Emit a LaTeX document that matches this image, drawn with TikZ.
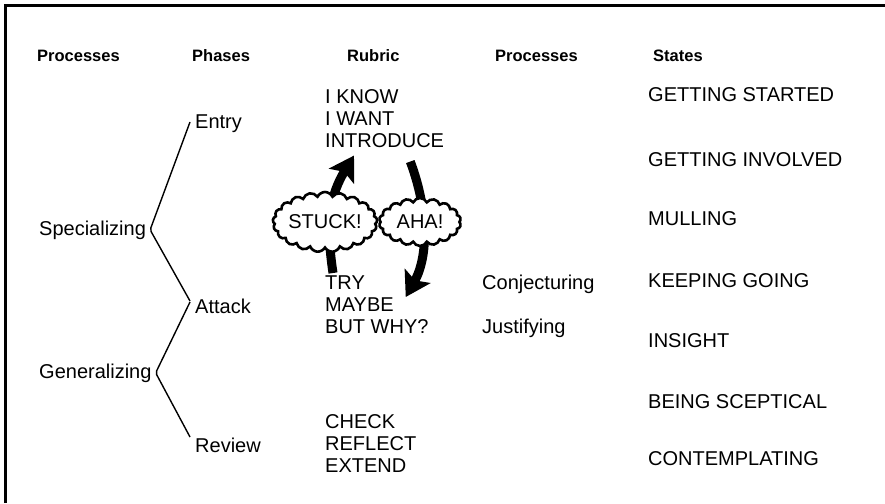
\documentclass[tikz,border=0pt]{standalone}
\usepackage{fontspec}
\setmainfont{Liberation Sans}
\usepackage{tikz}
\usetikzlibrary{shapes.symbols, arrows.meta, positioning, calc}
\tikzstyle{heading} = [inner sep=0pt, anchor=base west, font=\fontsize{16.5}{18}\selectfont\bfseries]
\tikzstyle{item} = [inner sep=0pt, anchor=base west, font=\fontsize{20}{22}\selectfont]
\tikzstyle{rubric} = [inner sep=0pt, anchor=north west, align=left, font=\fontsize{20}{22}\selectfont]
\tikzstyle{bubble} = [cloud, cloud puffs=21, cloud puff arc=130, cloud ignores aspect, draw, fill=white,
  line width=2.6pt, inner sep=0pt, font=\fontsize{20}{22}\selectfont]
\tikzstyle{bigarrow} = [line width=9pt, -{Stealth[length=24pt, width=29pt, inset=5pt]}]
\tikzstyle{branch} = [line width=1.4pt, rounded corners=2pt]

\begin{document}
\begin{tikzpicture}[x=1pt, y=-1pt]
  \useasboundingbox (0,0) rectangle (885,503);
  \draw[line width=3pt] (5,503) -- (5,6) -- (885,6);

  % column headings
  \node (hproc)  [heading] at (37,62)  {Processes};
  \node (hphase) [heading] at (192,62) {Phases};
  \node (hrub)   [heading] at (347,62) {Rubric};
  \node (hproc2) [heading] at (495,62) {Processes};
  \node (hstate) [heading] at (653,62) {States};

  % processes and phases
  \node (spec)   [item] at (39,235)  {Specializing};
  \node (gen)    [item] at (39,378)  {Generalizing};
  \node (entry)  [item] at (195,128) {Entry};
  \node (attack) [item] at (195,313) {Attack};
  \node (review) [item] at (195,452) {Review};

  \draw[branch] ([xshift=-5pt,yshift=6pt]entry.base west) -- ([xshift=4pt]spec.east)
    -- ([xshift=-5pt,yshift=12pt]attack.base west);
  \draw[branch] ([xshift=-5pt,yshift=11pt]attack.base west) -- ([xshift=4pt]gen.east)
    -- ([xshift=-5pt,yshift=15pt]review.base west);

  % rubric
  \node (know)  [rubric] at (325,89)  {I KNOW\\I WANT\\INTRODUCE};
  \node (try)   [rubric] at (325,276) {TRY\\MAYBE\\BUT WHY?};
  \node (check) [rubric] at (325,414) {CHECK\\REFLECT\\EXTEND};

  \node (conj) [item] at (482,289) {Conjecturing};
  \node (just) [item] at (482,333) {Justifying};

  % states
  \node (st1) [item] at (648,101) {GETTING STARTED};
  \node (st2) [item] at (648,166) {GETTING INVOLVED};
  \node (st3) [item] at (648,225) {MULLING};
  \node (st4) [item] at (648,287) {KEEPING GOING};
  \node (st5) [item] at (648,347) {INSIGHT};
  \node (st6) [item] at (648,408) {BEING SCEPTICAL};
  \node (st7) [item] at (648,465) {CONTEMPLATING};

  % the loop between attack and entry
  \draw[bigarrow] ([xshift=8pt,yshift=3pt]try.north west)
    .. controls +(-8,-53) and +(-23,38) .. ([xshift=29pt,yshift=-8pt]know.south west);
  \draw[bigarrow] ([xshift=-34pt,yshift=-14pt]know.south east)
    .. controls +(18,48) and +(23,-41) .. ([xshift=-23pt,yshift=-21pt]try.north east);

  \node (stuck) [bubble, minimum width=96pt, minimum height=60pt] at (325,222) {STUCK!};
  \node (aha)   [bubble, cloud puffs=18, minimum width=82pt, minimum height=48pt] at (420,222) {AHA!};
\end{tikzpicture}
\end{document}
